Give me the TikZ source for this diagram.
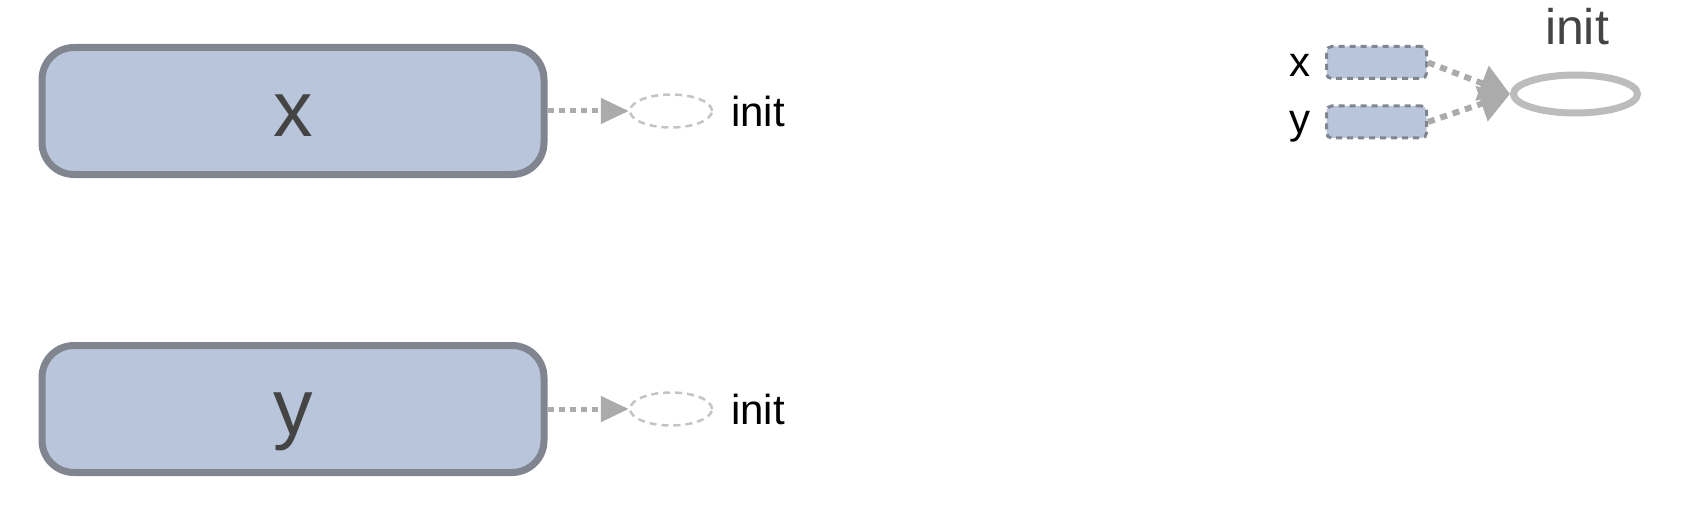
\documentclass[tikz,border=0pt]{standalone}
\usepackage{fontspec}
\setmainfont{Liberation Sans}
\usetikzlibrary{arrows.meta,shapes.geometric}
\definecolor{boxfill}{HTML}{B9C5DB}
\definecolor{boxline}{HTML}{80858F}
\definecolor{arrgray}{HTML}{ABABAB}
\definecolor{ellgray}{HTML}{C4C4C4}
\definecolor{ellsolid}{HTML}{BCBCBC}
\definecolor{textdark}{HTML}{444444}
\tikzset{
  bigbox/.style={draw=boxline, fill=boxfill, line width=7pt, rounded corners=32pt,
    minimum width=502pt, minimum height=127pt, inner sep=0pt,
    text height=50pt, text depth=0pt,
    font=\fontsize{79}{80}\selectfont, text=textdark},
  smallbox/.style={draw=boxline, fill=boxfill, line width=3pt, dash pattern=on 6pt off 5pt,
    rounded corners=5pt, minimum width=100pt, minimum height=32pt, inner sep=0pt},
  dashell/.style={ellipse, draw=ellgray, line width=2.5pt, dash pattern=on 7pt off 5pt,
    minimum width=82pt, minimum height=33pt, inner sep=0pt},
  solidell/.style={ellipse, draw=ellsolid, line width=7pt,
    minimum width=124pt, minimum height=38pt, inner sep=0pt},
  dotarrow/.style={draw=arrgray, line width=5pt, dash pattern=on 6pt off 5pt,
    -{Triangle[length=28pt,width=25pt]}},
  bigarrow/.style={draw=arrgray, line width=6pt, dash pattern=on 7pt off 6pt,
    -{Triangle[length=30pt,width=36pt]}},
  smalllabel/.style={font=\fontsize{42}{44}\selectfont, text=black, inner sep=0pt},
  sidelabel/.style={font=\fontsize{42}{44}\selectfont, text=black, inner sep=0pt, anchor=base},
  toplabel/.style={font=\fontsize{50}{52}\selectfont, text=textdark, inner sep=0pt},
}
\begin{document}
\begin{tikzpicture}[x=1pt,y=-1pt]
\useasboundingbox (0,0) rectangle (1686,516);
% left column
\node[bigbox] (bx) at (293,111) {x};
\node[bigbox] (by) at (293,409) {y};
\node[dashell] (ex) at (671,111) {};
\node[dashell] (ey) at (671,409) {};
\draw[dotarrow] (bx.east) -- (ex.west);
\draw[dotarrow] (by.east) -- (ey.west);
\node[smalllabel, anchor=west] (lx) at (731,111) {init};
\node[smalllabel, anchor=west] (ly) at (731,409) {init};
% right group
\node[smallbox] (sx) at (1376.5,62.5) {};
\node[smallbox] (sy) at (1376.5,122) {};
\node[sidelabel] (tx) at (1299.5,77) {x};
\node[sidelabel] (ty) at (1299.5,134) {y};
\node[solidell] (re) at (1575.5,94) {};
\draw[bigarrow] (sx.east) -- (re.west);
\draw[bigarrow] (sy.east) -- (re.west);
\node[toplabel] (ti) at (1577,27) {init};
\end{tikzpicture}
\end{document}
